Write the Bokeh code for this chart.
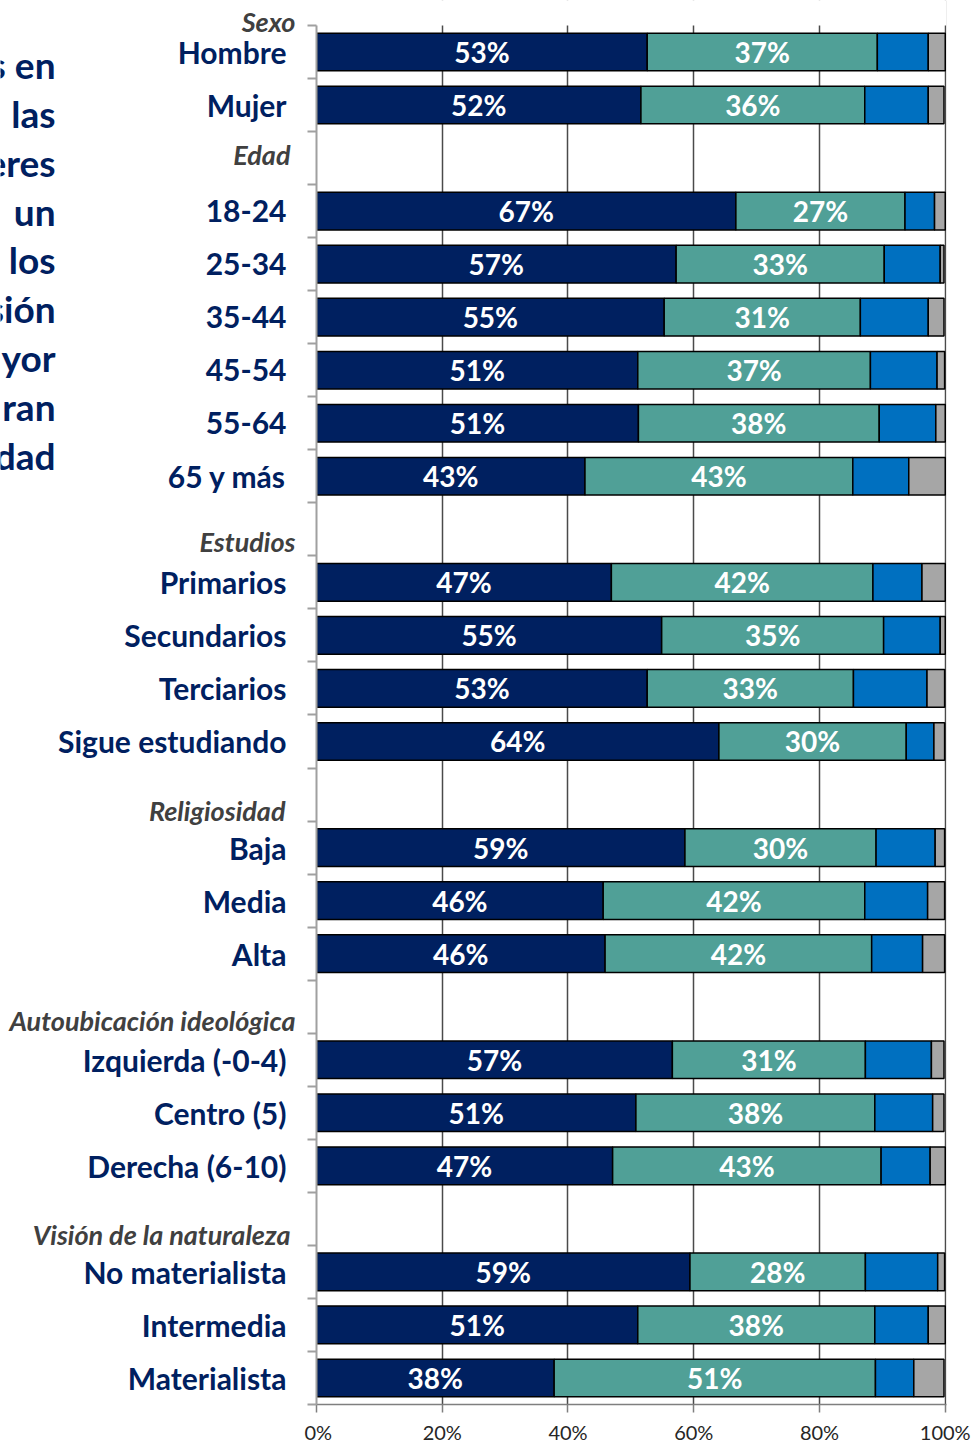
from bokeh.plotting import figure
from bokeh.layouts import row
from bokeh.models import (Range1d, FixedTicker, ColumnDataSource, CustomJSTickFormatter,
                          BoxAnnotation)
from bokeh.embed import file_html
from bokeh.resources import INLINE
from bokeh.core.properties import value

# ------------------------------------------------------------------ data
groups = ["Sexo", "Edad", "Estudios", "Religiosidad",
          "Autoubicación ideológica", "Visión de la naturaleza"]
categories = ["Hombre", "Mujer",
              "18-24", "25-34", "35-44", "45-54", "55-64", "65 y más",
              "Primarios", "Secundarios", "Terciarios", "Sigue estudiando",
              "Baja", "Media", "Alta",
              "Izquierda (-0-4)", "Centro (5)", "Derecha (6-10)",
              "No materialista", "Intermedia", "Materialista"]
group_index = [0, 0, 1, 1, 1, 1, 1, 1, 2, 2, 2, 2, 3, 3, 3, 4, 4, 4, 5, 5, 5]
serie_1 = [52.6, 51.6, 66.7, 57.2, 55.3, 51.1, 51.2, 42.7, 46.9, 54.9, 52.6, 64.0,
           58.6, 45.6, 45.9, 56.6, 50.8, 47.1, 59.4, 51.1, 37.8]
serie_2 = [36.6, 35.6, 26.9, 33.1, 31.2, 37.0, 38.3, 42.6, 41.6, 35.3, 32.8, 29.8,
           30.4, 41.6, 42.4, 30.7, 38.0, 42.7, 27.9, 37.7, 51.1]
serie_3 = [8.1, 10.1, 4.7, 8.9, 10.8, 10.6, 9.0, 8.9, 7.8, 9.0, 11.7, 4.4,
           9.4, 10.0, 8.1, 10.5, 9.2, 7.8, 11.5, 8.5, 6.1]
serie_4 = [2.7, 2.5, 1.7, 0.6, 2.5, 1.2, 1.5, 5.8, 3.7, 0.8, 2.8, 1.7,
           1.5, 2.7, 3.5, 2.0, 1.8, 2.4, 1.1, 2.7, 4.8]
tick_values = [0, 20, 40, 60, 80, 100]
tick_labels = ["0%", "20%", "40%", "60%", "80%", "100%"]
left_text = ["s en", "las", "eres", "un", "los", "sión", "yor", "ran", "dad"]

# ------------------------------------------------------------------ layout / style
FIG_H = 1446
PLOT_TOP = 25          # px from top of figure to the first row boundary
ROWS_H = 1382          # px height of all rows
BOTTOM = FIG_H - PLOT_TOP - ROWS_H
LEFT_W = 304
PLOT_BL = 12
FRAME_W = 630
PLOT_BR = 26
NAVY = "#002060"
TEAL = "#50A097"
BLUE = "#0070C0"
GRAY = "#A6A6A6"
HEAD_COL = "#404040"
FONT = value("Lato")

header_dy_px = [22.4, -3.7, 12.1, 16.4, 14.3, 15.7]   # centre offset from header row centre
header_right = [295, 290, 295, 285, 295, 290]
cat_right = 286
big_right = 55
big_first_px = 39     # centre of first line below first row boundary
big_step_px = 49

# row positions (empty row before each group except the first)
row_pos, header_row = [], []
r, prev = 0, None
for g in group_index:
    if g != prev:
        if prev is None:
            header_row.append(-1)
        else:
            header_row.append(r)
            r += 1
        prev = g
    row_pos.append(r)
    r += 1
n_rows = r
ROW_PX = ROWS_H / n_rows
y_top = -0.5 - PLOT_TOP / ROW_PX
y_range = Range1d(n_rows - 0.5, y_top)

# ------------------------------------------------------------------ left panel (labels)
left = figure(width=LEFT_W, height=FIG_H, x_range=Range1d(0, LEFT_W),
              y_range=y_range, toolbar_location=None,
              output_backend="svg", min_border=0, min_border_bottom=BOTTOM,
              title=None, x_axis_type=None, y_axis_type=None)
left.grid.visible = False
left.outline_line_color = None

left.text(x=[cat_right] * len(categories), y=row_pos,
          text=categories, text_align="right", text_baseline="middle",
          text_color=NAVY, text_font=FONT, text_font_style="bold",
          text_font_size="30px")

left.text(x=header_right,
          y=[hr + dy / ROW_PX for hr, dy in zip(header_row, header_dy_px)],
          text=groups, text_align="right", text_baseline="middle",
          text_color=HEAD_COL, text_font=FONT, text_font_style="bold italic",
          text_font_size="27px")

left.text(x=[big_right] * len(left_text),
          y=[-0.5 + (big_first_px + i * big_step_px) / ROW_PX for i in range(len(left_text))],
          text=left_text, text_align="right", text_baseline="middle",
          text_color=NAVY, text_font=FONT, text_font_style="bold",
          text_font_size="37px")

# ------------------------------------------------------------------ right panel (bars)
p = figure(width=PLOT_BL + FRAME_W + PLOT_BR, height=FIG_H, x_range=Range1d(0, 100.2),
           y_range=y_range, toolbar_location=None,
           output_backend="svg", title=None, min_border_left=PLOT_BL,
           min_border_right=PLOT_BR, min_border_top=0, min_border_bottom=BOTTOM)
p.outline_line_color = None
p.ygrid.visible = False
p.xgrid.ticker = FixedTicker(ticks=tick_values[1:])
p.xgrid.grid_line_color = "#4a4a4a"
p.xgrid.grid_line_width = 1.5
# blank strip above the first row (grid lines start at the first row boundary)
p.add_layout(BoxAnnotation(top=y_top - 1, bottom=-0.5, fill_color="white", fill_alpha=1,
                           line_color=None, level="underlay"))

series = [serie_1, serie_2, serie_3, serie_4]
colors = [NAVY, TEAL, BLUE, GRAY]
cum = [0.0] * len(categories)
mids = []
for vals, col in zip(series, colors):
    lefts = cum[:]
    rights = [a + b for a, b in zip(cum, vals)]
    mids.append([(a + b) / 2 for a, b in zip(lefts, rights)])
    src = ColumnDataSource(dict(y=row_pos, left=lefts, right=rights))
    p.hbar(y="y", left="left", right="right", height=0.71, source=src,
           fill_color=col, line_color="black", line_width=1.5)
    cum = rights

for vals, mid in zip(series[:2], mids[:2]):
    p.text(x=mid, y=row_pos,
           text=[f"{round(v)}%" for v in vals], text_align="center",
           text_baseline="middle", text_color="white", text_font=FONT,
           text_font_style="bold", text_font_size="28px")

xa = p.xaxis[0]
xa.ticker = FixedTicker(ticks=tick_values)
xa.major_label_overrides = {v: l for v, l in zip(tick_values, tick_labels)}
xa.axis_line_color = "#7f7f7f"
xa.axis_line_width = 1.5
xa.major_tick_line_color = "#7f7f7f"
xa.major_tick_line_width = 1.5
xa.major_tick_in = 0
xa.major_tick_out = 8
xa.minor_tick_line_color = None
xa.major_label_standoff = 7
xa.major_label_text_font = "Lato"
xa.major_label_text_font_size = "20px"
xa.major_label_text_color = "#262626"

ya = p.yaxis[0]
ya.ticker = FixedTicker(ticks=[i - 0.5 for i in range(n_rows + 1)])
ya.bounds = (-0.5, n_rows - 0.5)
ya.formatter = CustomJSTickFormatter(code="return ''")
ya.axis_line_color = "#a0a0a0"
ya.axis_line_width = 2
ya.major_tick_line_color = "#a0a0a0"
ya.major_tick_line_width = 2
ya.major_tick_in = 0
ya.major_tick_out = 9
ya.minor_tick_line_color = None
ya.major_label_standoff = 0

layout = row(left, p)
open("out.html", "w").write(file_html(layout, INLINE))
